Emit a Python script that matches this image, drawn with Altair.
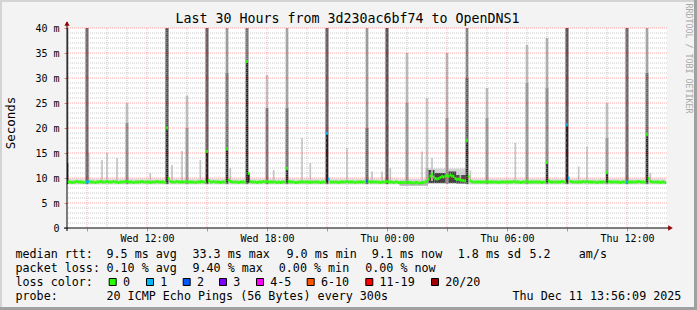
import altair as alt
import pandas as pd

MONO = "DejaVu Sans Mono"
PL, PT, W, H = 67, 28, 600, 200
STEP = 1 / 12  # hours per 5-minute sample

# ------------------------------------------------------------------ data
# median RTT (ms) per 5-minute sample, starting Wed 08:00; one row = one hour
median_ms = [
    9.3, 9.2, 9.2, 9.1, 9.2, 9.2, 9.3, 9.2, 9.2, 9.2, 9.1, 9.2,      # Wed 08
    9.2, 9.3, 9.2, 9.2, 9.2, 9.1, 9.2, 9.2, 9.3, 9.2, 9.2, 9.2,      # Wed 09
    9.3, 9.2, 9.2, 9.2, 9.3, 9.2, 9.2, 9.1, 9.2, 9.2, 9.2, 9.3,      # Wed 10
    9.3, 9.2, 9.2, 9.2, 9.1, 9.2, 9.2, 9.2, 9.2, 9.3, 9.2, 9.2,      # Wed 11
    9.2, 9.2, 9.1, 9.2, 9.2, 9.2, 9.3, 9.2, 9.2, 9.2, 9.2, 9.1,      # Wed 12
    20.0, 9.9, 9.3, 9.2, 9.2, 9.2, 9.3, 9.2, 9.2, 9.2, 9.2, 9.2,     # Wed 13
    9.3, 9.2, 9.2, 9.2, 9.2, 9.1, 9.2, 9.2, 9.2, 9.3, 9.2, 9.2,      # Wed 14
    15.3, 9.5, 9.2, 9.2, 9.3, 9.2, 9.2, 9.2, 9.1, 9.2, 9.2, 9.2,     # Wed 15
    15.8, 9.6, 9.3, 9.2, 9.2, 9.2, 9.2, 9.1, 9.2, 9.2, 9.2, 9.2,     # Wed 16
    33.3, 10.9, 9.3, 9.2, 9.2, 9.2, 9.1, 9.2, 9.2, 9.2, 9.3, 9.2,    # Wed 17
    9.3, 9.2, 9.2, 9.2, 9.2, 9.2, 9.1, 9.2, 9.1, 9.2, 9.2, 9.2,      # Wed 18
    11.9, 9.3, 9.2, 9.2, 9.2, 9.1, 9.1, 9.2, 9.2, 9.2, 9.2, 9.2,     # Wed 19
    9.2, 9.2, 9.1, 9.2, 9.2, 9.2, 9.2, 9.2, 9.1, 9.2, 9.2, 9.2,      # Wed 20
    18.9, 9.8, 9.2, 9.2, 9.2, 9.2, 9.2, 9.1, 9.2, 9.2, 9.2, 9.2,     # Wed 21
    9.3, 9.2, 9.2, 9.2, 9.2, 9.1, 9.2, 9.2, 9.2, 9.2, 9.2, 9.2,      # Wed 22
    9.4, 9.3, 9.2, 9.2, 9.2, 9.2, 9.2, 9.2, 9.1, 9.2, 9.2, 9.2,      # Wed 23
    9.3, 9.2, 9.2, 9.2, 9.1, 9.2, 9.2, 9.1, 9.1, 9.1, 9.1, 9.1,      # Thu 00
    9.2, 9.1, 9.1, 9.0, 9.0, 9.1, 9.1, 9.0, 9.0, 9.1, 9.1, 9.2,      # Thu 01
    9.3, 9.8, 10.4, 10.8, 10.2, 9.9, 9.8, 9.9, 10.1, 10.3, 10.2, 10.4,   # Thu 02
    10.5, 10.3, 10.6, 10.4, 10.3, 9.9, 9.7, 9.8, 9.6, 9.5, 9.5, 9.4,     # Thu 03
    17.5, 10.3, 9.4, 9.2, 9.2, 9.2, 9.2, 9.2, 9.2, 9.2, 9.2, 9.2,    # Thu 04
    9.3, 9.2, 9.2, 9.2, 9.2, 9.2, 9.2, 9.1, 9.2, 9.2, 9.2, 9.2,      # Thu 05
    9.2, 9.2, 9.2, 9.2, 9.3, 9.2, 9.2, 9.2, 9.1, 9.2, 9.2, 9.2,      # Thu 06
    9.4, 9.2, 9.2, 9.2, 9.2, 9.2, 9.2, 9.2, 9.2, 9.1, 9.2, 9.2,      # Thu 07
    13.1, 9.4, 9.2, 9.2, 9.2, 9.2, 9.2, 9.2, 9.2, 9.3, 9.2, 9.2,     # Thu 08
    20.6, 10.0, 9.3, 9.2, 9.2, 9.2, 9.2, 9.2, 9.2, 9.2, 9.3, 9.2,    # Thu 09
    9.3, 9.2, 9.2, 9.2, 9.2, 9.2, 9.1, 9.2, 9.2, 9.2, 9.2, 9.2,      # Thu 10
    11.1, 9.3, 9.2, 9.2, 9.2, 9.2, 9.2, 9.2, 9.1, 9.2, 9.2, 9.2,     # Thu 11
    9.2, 9.2, 9.2, 9.2, 9.2, 9.2, 9.2, 9.3, 9.2, 9.2, 9.2, 9.2,      # Thu 12
    18.7, 9.9, 9.3, 9.2, 9.2, 9.2, 9.2, 9.2, 9.1, 9.2, 9.2, 9.1,     # Thu 13
]
# samples with packet loss (number of lost pings out of 20)
loss_idx = [0, 12, 13, 156, 157, 180, 300, 301, 336]
loss_cnt = [1, 1, 1, 1, 1, 2, 1, 1, 1]

# big smoke columns (hourly spikes): sample index, max ping, upper density,
# top of the denser middle band, its density (0..10 scale of ping concentration)
spike_idx = [0, 12, 36, 60, 72, 84, 96, 108, 120, 132, 156, 180,
             192, 204, 216, 228, 240, 252, 276, 288, 300, 324, 336, 348]
spike_max = [45, 45, 25, 45, 26.5, 45, 45, 45, 30.6, 45, 45, 45,
             45, 35, 26, 35, 45, 28, 36.6, 38, 45, 25, 45, 45]
spike_max_dens = [5.5, 5, 1.8, 6.5, 1.8, 5.5, 3.5, 4.3, 1.5, 3, 5.5, 3.5,
                  6, 2, 1.5, 2, 4.5, 2, 2, 2.5, 6, 1.8, 5, 3]
spike_mid = [13, 45, 21, 45, 20, 45, 31, 40, 24, 24, 45, 20,
             45, 25, 12, 22, 30, 22, 29, 28, 45, 18, 45, 31]
spike_mid_dens = [8, 5, 4, 6.5, 3.5, 5.5, 5, 5, 4.5, 5, 5.5, 5.5,
                  6, 3.5, 2.5, 3.5, 6, 3.5, 3.5, 4, 6, 3.5, 5, 5.5]

# small isolated smoke puffs: sample index and max ping
puff_idx = [13, 21, 24, 30, 50, 63, 69, 80, 98, 124, 141, 146, 168,
            183, 189, 194, 213, 219, 236, 242, 269, 307, 312, 350]
puff_max = [15.0, 13.6, 15.0, 14.0, 11.0, 12.6, 15.4, 13.6, 12.0, 11.6, 18.0, 13.0, 16.0,
            11.3, 11.3, 12.0, 15.3, 14.0, 10.6, 11.5, 17.0, 12.3, 16.3, 11.0]

# background smoke band around the median
band_start = [0, 200, 217, 240]
band_end = [200, 217, 240, 360]
band_lo = [8.7, 8.4, 8.8, 8.7]
band_hi = [9.9, 9.8, 11.9, 9.9]
band_dens = [0.7, 1.0, 1.0, 0.7]

# denser smoke regions (Thu 00:40 - 04:00)
dense_start = [200, 217, 221, 228, 234]
dense_end = [217, 221, 228, 234, 240]
dense_lo = [8.5, 9.0, 9.0, 9.0, 8.9]
dense_hi = [8.9, 11.6, 11.0, 11.3, 10.6]
dense_dens = [2.2, 7.0, 7.0, 7.0, 6.5]

x_tick_hours = [4, 10, 16, 22, 28]
x_tick_labels = ["Wed 12:00", "Wed 18:00", "Thu 00:00", "Thu 06:00", "Thu 12:00"]
x_major_hours = [1, 4, 7, 10, 13, 16, 19, 22, 25, 28]
x_minor_hours = [2, 3, 5, 6, 8, 9, 11, 12, 14, 15, 17, 18, 20, 21, 23, 24, 26, 27, 29]
y_major = [5, 10, 15, 20, 25, 30, 35, 40]
y_minor = [1, 2, 3, 4, 6, 7, 8, 9, 11, 12, 13, 14, 16, 17, 18, 19, 21, 22, 23, 24,
           26, 27, 28, 29, 31, 32, 33, 34, 36, 37, 38, 39]
y_ticks = [0, 5, 10, 15, 20, 25, 30, 35, 40]

loss_labels = ["0", "1", "2", "3", "4-5", "6-10", "11-19", "20/20"]
loss_colors = ["#26ff00", "#00b8ff", "#0059ff", "#7e00ff", "#ff00ff", "#ff5500", "#ff0000", "#a10000"]
loss_lookup = {0: "0", 1: "1", 2: "2", 3: "3", 4: "4-5", 5: "4-5"}

rtt_avg, rtt_max, rtt_min, rtt_now, rtt_sd, am_s = 9.5, 33.3, 9.0, 9.1, 1.8, 5.2
loss_avg, loss_max, loss_min, loss_now = 0.10, 9.40, 0.00, 0.00
title_text = "Last 30 Hours from 3d230ac6bf74 to OpenDNS1"
probe_text = "20 ICMP Echo Pings (56 Bytes) every 300s"
stamp_text = "Thu Dec 11 13:56:09 2025"

# ------------------------------------------------------------------ frames
SMOKE_FLOOR = 8.8
MED_HALF = 0.29

loss_map = dict(zip(loss_idx, loss_cnt))
med_df = pd.DataFrame({
    "t0": [i * STEP - STEP / 2 for i in range(len(median_ms))],
    "t1": [i * STEP + STEP / 2 for i in range(len(median_ms))],
    "lo": [m - MED_HALF for m in median_ms],
    "hi": [m + MED_HALF for m in median_ms],
    "loss": [loss_lookup[loss_map.get(i, 0)] for i in range(len(median_ms))],
})

def rects(t0, t1, lo, hi, dens):
    return pd.DataFrame({"t0": t0, "t1": t1, "lo": lo, "hi": hi, "density": dens})

band_df = rects([s * STEP - STEP / 2 for s in band_start], [e * STEP - STEP / 2 for e in band_end],
                band_lo, band_hi, band_dens)
dense_df = rects([s * STEP - STEP / 2 for s in dense_start], [e * STEP - STEP / 2 for e in dense_end],
                 dense_lo, dense_hi, dense_dens)
puff_df = rects([i * STEP - STEP / 2 for i in puff_idx], [i * STEP + STEP / 2 for i in puff_idx],
                [9.4] * len(puff_idx), puff_max, [1.6] * len(puff_idx))
SW = 0.8
spike_hi_df = rects([i * STEP - SW * STEP for i in spike_idx], [i * STEP + SW * STEP for i in spike_idx],
                    [SMOKE_FLOOR] * len(spike_idx), spike_max, spike_max_dens)
spike_mid_df = rects([i * STEP - SW * STEP for i in spike_idx], [i * STEP + SW * STEP for i in spike_idx],
                     [SMOKE_FLOOR] * len(spike_idx), spike_mid, spike_mid_dens)
core_rows = [i for i, m in enumerate(median_ms) if m > 10.5 and not (217 <= i < 240)]
core_df = rects([i * STEP - 0.6 * STEP for i in core_rows], [i * STEP + 0.6 * STEP for i in core_rows],
                [9.0] * len(core_rows), [median_ms[i] for i in core_rows], [8.6] * len(core_rows))

xscale = alt.Scale(domain=[0, 30], nice=False, zero=False)
yscale = alt.Scale(domain=[0, 40], nice=False, zero=True, clamp=True)
dscale = alt.Scale(domain=[0, 10], range=["#f0f0f0", "#000000"])

x_label_expr = " : ".join(f"datum.value == {h} ? '{l}'" for h, l in zip(x_tick_hours, x_tick_labels)) + " : ''"
X_AXIS = alt.Axis(
    values=x_major_hours, labelExpr=x_label_expr, title=None, grid=False, domain=False,
    ticks=True, tickSize=3, tickColor="#e08080", labelPadding=2, labelFont=MONO,
    labelFontSize=10, labelColor="#000000", labelOverlap=False, labelFlush=False)
Y_AXIS = alt.Axis(
    values=y_ticks, labelExpr="datum.value == 0 ? '0' : datum.value + ' m'", title=None,
    grid=False, domain=False, ticks=True, tickSize=3, tickColor="#e08080",
    labelPadding=5, labelFont=MONO, labelFontSize=10, labelColor="#000000")

def smoke(df):
    return alt.Chart(df).mark_rect(clip=True).encode(
        x=alt.X("t0:Q", scale=xscale, axis=X_AXIS), x2="t1:Q",
        y=alt.Y("lo:Q", scale=yscale, axis=Y_AXIS), y2="hi:Q",
        color=alt.Color("density:Q", scale=dscale, legend=None),
    )

def vgrid(vals, color, opacity):
    return alt.Chart(pd.DataFrame({"t0": vals})).mark_rule(
        color=color, opacity=opacity, strokeDash=[1, 1], strokeWidth=1
    ).encode(x=alt.X("t0:Q", scale=xscale, axis=X_AXIS))

def hgrid(vals, color, opacity):
    return alt.Chart(pd.DataFrame({"lo": vals})).mark_rule(
        color=color, opacity=opacity, strokeDash=[1, 1], strokeWidth=1
    ).encode(y=alt.Y("lo:Q", scale=yscale, axis=Y_AXIS))

median_layer = alt.Chart(med_df).mark_rect(clip=True).encode(
    x=alt.X("t0:Q", scale=xscale, axis=X_AXIS), x2="t1:Q",
    y=alt.Y("lo:Q", scale=yscale, axis=Y_AXIS), y2="hi:Q",
    fill=alt.Fill("loss:N", scale=alt.Scale(domain=loss_labels, range=loss_colors), legend=None),
)

one = pd.DataFrame({"k": [0]})

def txt(s, px, py, size=11.7, align="left", angle=0, color="#000000"):
    return alt.Chart(one).mark_text(
        text=s, align=align, baseline="middle", font=MONO, fontSize=size, angle=angle, color=color
    ).encode(x=alt.value(px - PL), y=alt.value(py - PT))

def rule_px(x1, y1, x2, y2, color, width):
    return alt.Chart(one).mark_rule(color=color, strokeWidth=width).encode(
        x=alt.value(x1 - PL), x2=alt.value(x2 - PL), y=alt.value(y1 - PT), y2=alt.value(y2 - PT))

layers = [
    smoke(band_df), smoke(dense_df), smoke(puff_df),
    smoke(spike_hi_df), smoke(spike_mid_df), smoke(core_df),
    vgrid(x_minor_hours, "#b0b0b0", 0.7), hgrid(y_minor, "#b0b0b0", 0.7),
    vgrid(x_major_hours, "#ff0000", 0.3), hgrid(y_major, "#ff0000", 0.35),
    median_layer,
    # axis lines with arrows
    rule_px(67, 231, 67, 22, "#000000", 1),
    rule_px(64, 228, 670, 228, "#000000", 1),
    alt.Chart(one).mark_point(shape="triangle-up", filled=True, size=28, color="#990000", opacity=1)
      .encode(x=alt.value(0), y=alt.value(23.5 - PT)),
    alt.Chart(one).mark_point(shape="triangle-right", filled=True, size=28, color="#990000", opacity=1)
      .encode(x=alt.value(670.5 - PL), y=alt.value(0 + H)),
    # titles
    txt(title_text, 347.5, 19, size=13.3, align="center"),
    txt("Seconds", 11, 123, size=12.5, align="center", angle=270),
    txt("RRDTOOL / TOBI OETIKER", 688, 58.5, size=8.3, align="center", angle=90, color="#a8a8a8"),
    # legend rows
    txt("median rtt:", 15.5, 254.3),
    txt(f"{rtt_avg:.1f} ms avg", 106.5, 254.3),
    txt(f"{rtt_max:.1f} ms max", 192.5, 254.3),
    txt(f"{rtt_min:.1f} ms min", 286.5, 254.3),
    txt(f"{rtt_now:.1f} ms now", 371.8, 254.3),
    txt(f"{rtt_sd:.1f} ms sd", 457.8, 254.3),
    txt(f"{am_s:.1f}", 529.5, 254.3),
    txt("am/s", 578.8, 254.3),
    txt("packet loss:", 15.5, 268.3),
    txt(f"{loss_avg:.2f} % avg", 106.5, 268.3),
    txt(f"{loss_max:.2f} % max", 192.5, 268.3),
    txt(f"{loss_min:.2f} % min", 278.8, 268.3),
    txt(f"{loss_now:.2f} % now", 365.2, 268.3),
    txt("loss color:", 15.5, 282.3),
    txt("probe:", 15.5, 295.7),
    txt(probe_text, 106.5, 295.7),
    txt(stamp_text, 512.5, 295.7),
]

sq_left = [108.7, 146, 182.7, 219, 256, 306.7, 365.3, 431]
for lab, col, sx in zip(loss_labels, loss_colors, sq_left):
    layers.append(alt.Chart(one).mark_rect(fill=col, stroke="#000000", strokeWidth=1).encode(
        x=alt.value(sx + 0.5 - PL), x2=alt.value(sx + 7.5 - PL),
        y=alt.value(278.5 - PT), y2=alt.value(285.5 - PT)))
    layers.append(txt(lab, sx + 14.2, 282.3))

# outer frame
layers += [
    rule_px(0, 1, 697, 1, "#d4d4d4", 2),
    rule_px(1, 0, 1, 310, "#d4d4d4", 2),
    rule_px(695.5, 0, 695.5, 310, "#a0a0a0", 3),
    rule_px(0, 308.5, 697, 308.5, "#a0a0a0", 3),
]

chart = alt.layer(*layers).properties(
    width=W, height=H,
    autosize=alt.AutoSizeParams(type="none"),
    padding={"left": PL, "top": PT, "right": 697 - PL - W, "bottom": 310 - PT - H},
    background="#f3f3f3",
).configure_view(fill="#ffffff", stroke=None)

chart.save("out.html", embed_options={"renderer": "svg", "actions": False})
